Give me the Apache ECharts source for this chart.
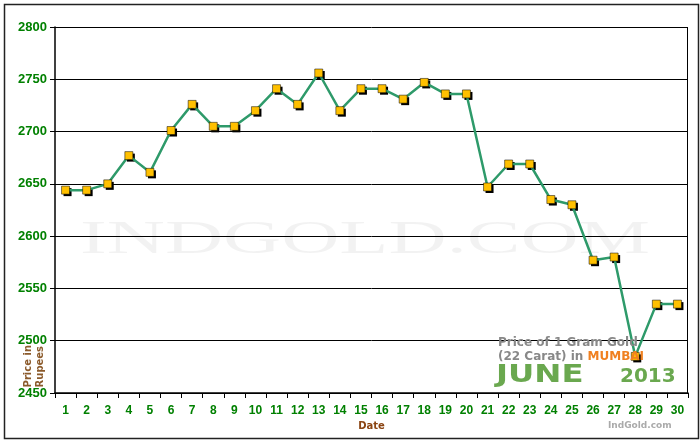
<!DOCTYPE html>
<html><head><meta charset="utf-8">
<script src="https://cdn.jsdelivr.net/npm/echarts@6/dist/echarts.min.js"></script>
<style>html,body{margin:0;padding:0;background:#fff}#c{width:700px;height:440px}</style>
</head><body><div id="c"></div>
<script>
const dates = Array.from({length:30},(_,i)=>String(i+1));
const prices = [2644,2644,2650,2677,2661,2701,2726,2705,2705,2720,2741,2726,2756,2720,2741,2741,2731,2747,2736,2736,2647,2669,2669,2635,2630,2577,2580,2485,2535,2535];
const yTicks = {min:2450,max:2800,interval:50};
const chart = echarts.init(document.getElementById('c'));
chart.setOption({
  animation:false,
  backgroundColor:'#fff',
  grid:{left:55,right:12,top:27,bottom:47},
  xAxis:{type:'category',data:dates,boundaryGap:true,
    axisLine:{lineStyle:{color:'#000',width:1.5}},
    axisTick:{show:true,lineStyle:{color:'#000'}},
    axisLabel:{color:'#008000',fontWeight:'bold',fontSize:12,fontFamily:'Liberation Sans',margin:12},
    name:'Date',nameLocation:'middle',nameGap:28,
    nameTextStyle:{color:'#8B4513',fontWeight:'bold',fontSize:10,fontFamily:'DejaVu Sans'}},
  yAxis:{type:'value',min:yTicks.min,max:yTicks.max,interval:yTicks.interval,
    axisLine:{show:true,lineStyle:{color:'#000',width:1.5}},
    axisTick:{show:true,lineStyle:{color:'#000'}},
    splitLine:{lineStyle:{color:'#000',width:1}},
    axisLabel:{color:'#008000',fontWeight:'bold',fontSize:13,fontFamily:'Liberation Sans',formatter:v=>String(v)}},
  graphic:[
    {type:'rect',left:2,top:2,shape:{width:694,height:434},style:{fill:'none',stroke:'#222',lineWidth:1.5},silent:true},
    {type:'rect',right:12,top:27,shape:{width:1,height:366},style:{fill:'#000'}},
    {type:'text',x:80,y:218,scaleX:1.75,style:{text:'INDGOLD.COM',font:'46px "Liberation Serif"',fill:'rgba(0,0,0,0.05)'},z:0},
    {type:'text',left:22,top:345,rotation:Math.PI/2,style:{text:'Price in\nRupees',font:'bold 10px "DejaVu Sans"',fill:'#8B5a2b',lineHeight:12},z:10},
    {type:'text',left:498,top:337,style:{text:'Price of 1 Gram Gold',font:'bold 12px "DejaVu Sans"',fill:'#888'},z:10},
    {type:'text',left:498,top:351,style:{rich:{a:{font:'bold 12px "DejaVu Sans"',fill:'#888'},b:{font:'bold 12px "DejaVu Sans"',fill:'#f08020'}},text:'{a|(22 Carat) in }{b|MUMBAI}'},z:10},
    {type:'text',x:496,y:364,scaleX:1.35,style:{text:'JUNE',font:'bold 24px "DejaVu Sans"',fill:'#6aa84f'},z:10},
    {type:'text',left:620,top:367,style:{text:'2013',font:'bold 20px "DejaVu Sans"',fill:'#6aa84f'},z:10},
    {type:'text',left:608,top:421,style:{text:'IndGold.com',font:'bold 9px "DejaVu Sans"',fill:'#aaa'},z:10}
  ],
  series:[
    {type:'line',data:prices,symbol:'rect',symbolSize:8,symbolOffset:[2,2],
     itemStyle:{color:'#000'},lineStyle:{width:0},z:3,silent:true},
    {type:'line',data:prices,symbol:'rect',symbolSize:8,
     lineStyle:{color:'#2e9a6a',width:2.5},
     itemStyle:{color:'#ffc000',borderColor:'#000',borderWidth:0.5},z:4}
  ]
});
</script></body></html>
